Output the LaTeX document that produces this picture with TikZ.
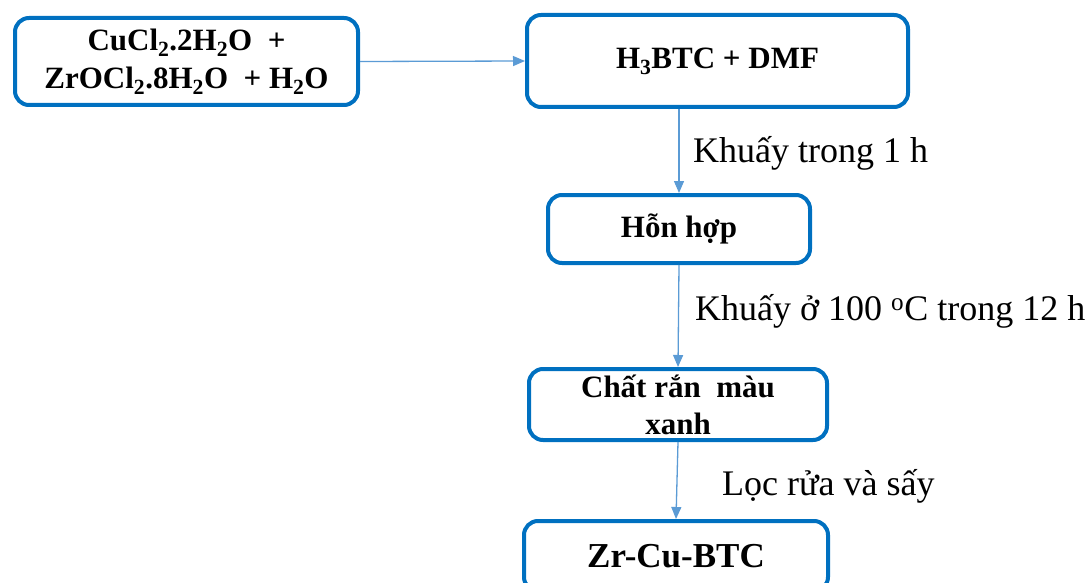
\documentclass[tikz,border=0pt]{standalone}
\usepackage{fontspec}
\setmainfont{Liberation Serif}
\usetikzlibrary{arrows.meta}
\definecolor{boxblue}{HTML}{0070C0}
\definecolor{arrblue}{HTML}{5B9BD5}

\begin{document}
\begin{tikzpicture}[x=1pt,y=-1pt,
  box/.style={draw=boxblue,line width=4pt,rounded corners=14pt,align=center,inner sep=0pt},
  arr/.style={draw=arrblue,line width=1.3pt,-{Triangle[length=12pt,width=10pt]}},
  lbl/.style={anchor=base west,inner sep=0pt,font=\fontsize{36}{40}\selectfont}]
\useasboundingbox (0,0) rectangle (1089,583);
\clip (0,0) rectangle (1089,583);
% boxes
\node[box,minimum width=343pt,minimum height=87pt,font=\bfseries\fontsize{31}{38}\selectfont] (mix) at (186.5,61.5)
  {CuCl\textsubscript{2}.2H\textsubscript{2}O~ +\\ZrOCl\textsubscript{2}.8H\textsubscript{2}O~ + H\textsubscript{2}O};
\node[box,minimum width=381pt,minimum height=92pt,font=\bfseries\fontsize{31}{36}\selectfont] (btc) at (717.5,61)
  {H\textsubscript{3}BTC + DMF};
\node[box,minimum width=262pt,minimum height=68pt,font=\bfseries\fontsize{31}{36}\selectfont] (hh) at (679,229) {Hỗn hợp};
\node[box,minimum width=298pt,minimum height=71pt,font=\bfseries\fontsize{31}{37}\selectfont] (ran) at (678,404.5)
  {Chất rắn~ màu\\xanh};
\node[box,minimum width=304pt,minimum height=70pt,font=\bfseries\fontsize{35}{40}\selectfont] (prod) at (676,556) {Zr-Cu-BTC};
% arrows
\draw[arr] (mix.east) -- (btc.west);
\draw[arr] (hh.north |- btc.south) -- (hh.north);
\draw[arr] (hh.south) -- (ran.north);
\draw[arr] (ran.south) -- (prod.north);
% labels
\node[lbl] (l1) at (693,162) {Khuấy trong 1 h};
\node[lbl] (l2) at (695,320) {Khuấy ở 100 \textsuperscript{o}C trong 12 h};
\node[lbl] (l3) at (722,495) {Lọc rửa và sấy};
\end{tikzpicture}
\end{document}
